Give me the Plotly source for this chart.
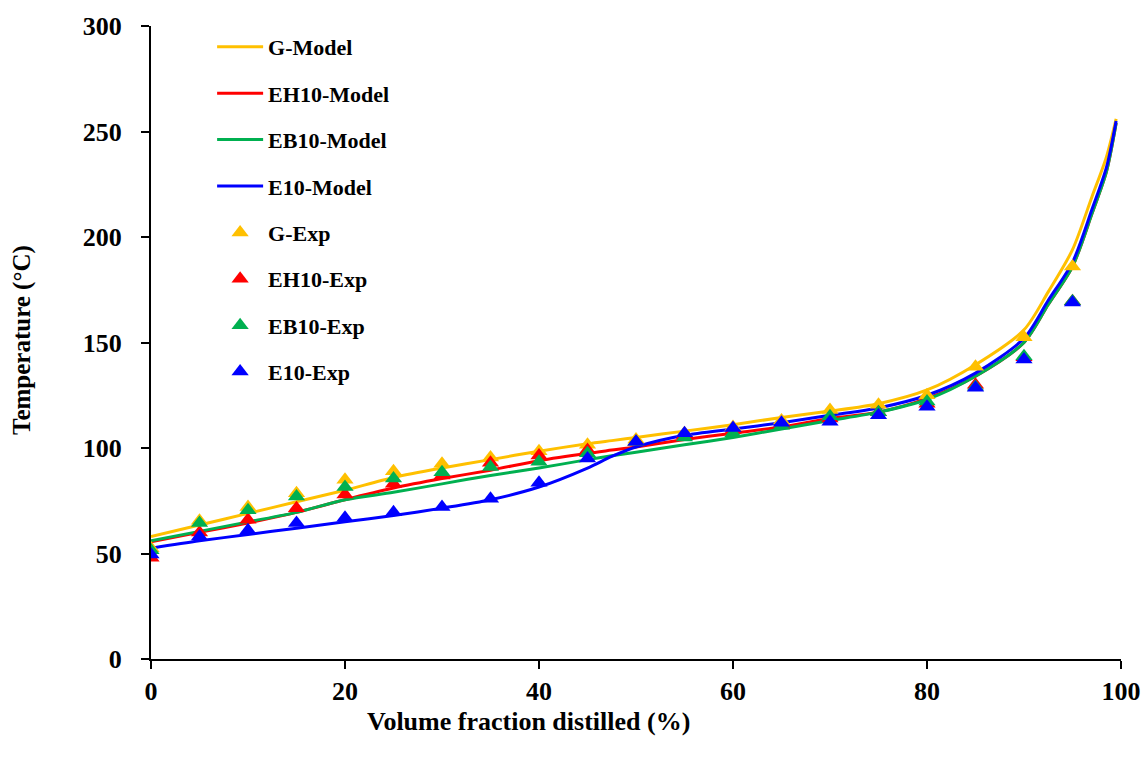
import plotly.graph_objects as go

# Model curves: volume fraction distilled (%) vs temperature (°C)
x_model = [0, 5, 10, 15, 20, 25, 30, 35, 40, 45, 47.5, 50, 55, 60, 65, 70, 75, 80,
           85, 90, 92.5, 95, 97, 98.5, 99.5]
g_model = [58, 63.5, 69, 74.5, 80, 86, 90.5, 94.5, 98.5, 102, 103.5, 105, 108, 111,
           114.5, 117.5, 121, 127.5, 139.5, 156, 174, 194, 219, 238, 256]
eh10_model = [55.5, 60, 64.5, 69.5, 75.5, 81, 85.5, 89.5, 94, 97.5, 99, 100.5, 104,
              107, 110, 114, 117, 123.5, 134, 150, 168, 186, 211, 231, 254]
eb10_model = [56, 60.5, 65, 69.5, 75.5, 79, 83, 87, 90.5, 94.5, 96.3, 98, 101.5, 105,
              109, 113, 117, 123, 134, 150, 168, 186, 211, 231, 254]
e10_model = [52.5, 56, 59, 62, 65, 68, 71.5, 75.5, 81.5, 90.5, 96, 100.5, 106, 109,
             112, 115.5, 119, 125, 135.5, 152, 170, 188, 213, 233, 255]

# Experimental distillation points
x_exp = [0, 5, 10, 15, 20, 25, 30, 35, 40, 45, 50, 55, 60, 65, 70, 75, 80, 85, 90, 95]
g_exp = [52.5, 65.5, 72, 78.5, 85, 89, 92.5, 95.5, 98.5, 101.5, 104, 107, 110, 113,
         118, 120.5, 125, 138.5, 152.5, 186]
eh10_exp = [48, 60, 66, 71.5, 78, 83, 87, 93, 96.5, 99, 103, 106, 108.5, 111, 114,
            117, 121, 130, 143, 169.5]
eb10_exp = [51.5, 64.5, 70.5, 77, 81.5, 85.5, 88.5, 91, 93.5, 97.5, 103, 105, 107,
            110.5, 115, 117, 122, 129, 143.5, 169.5]
e10_exp = [49.5, 58, 61, 64.5, 67, 69.5, 72, 76, 83.5, 95, 103, 107, 109.5, 112,
           112.5, 115.5, 119.5, 128.5, 142, 169]

x_ticks = [0, 20, 40, 60, 80, 100]
y_ticks = [0, 50, 100, 150, 200, 250, 300]

colors = {"G": "#FFC000", "EH10": "#FF0000", "EB10": "#00B050", "E10": "#0000FF"}
FONT = "Liberation Serif"

fig = go.Figure()

models = [("G", g_model), ("EH10", eh10_model), ("EB10", eb10_model), ("E10", e10_model)]
for name, ys in models:
    fig.add_trace(go.Scatter(
        x=x_model, y=ys, mode="lines", name=f"{name}-Model",
        legendgroup=f"{name}-Model",
        line=dict(color=colors[name], width=3, shape="spline", smoothing=0.8),
    ))

exps = [("G", g_exp), ("EH10", eh10_exp), ("EB10", eb10_exp), ("E10", e10_exp)]
for name, ys in exps:
    fig.add_trace(go.Scatter(
        x=x_exp, y=ys, mode="markers", name=f"{name}-Exp",
        legendgroup=f"{name}-Exp",
        marker=dict(symbol="triangle-up", size=15, color=colors[name],
                    line=dict(width=0)),
    ))

axis_common = dict(
    showline=True, linecolor="black", linewidth=2,
    ticks="outside", ticklen=8, tickwidth=2, tickcolor="black",
    showgrid=False, zeroline=False, automargin=False,
    tickfont=dict(family=FONT, size=26, color="black", weight="bold"),
)

fig.update_layout(
    width=1146, height=758,
    margin=dict(l=151, r=25, t=26, b=99),
    paper_bgcolor="white", plot_bgcolor="white",
    font=dict(family=FONT, color="black"),
    xaxis=dict(range=[0, 100], tickvals=x_ticks, ticklabelstandoff=0, **axis_common),
    yaxis=dict(range=[0, 300], tickvals=y_ticks, ticklabelstandoff=14, **axis_common),
    legend=dict(
        x=0.063, y=1.0, xanchor="left", yanchor="top",
        bgcolor="rgba(0,0,0,0)", tracegroupgap=14.8, itemwidth=46,
        font=dict(family=FONT, size=22, color="black", weight="bold"),
        traceorder="grouped",
    ),
    showlegend=True,
    annotations=[
        dict(text="Volume fraction distilled (%)", xref="paper", yref="paper",
             x=(528 - 151) / 970, y=(659 - 721) / 633, xanchor="center",
             yanchor="middle", showarrow=False,
             font=dict(family=FONT, size=26, color="black", weight="bold")),
        dict(text="Temperature (°C)", xref="paper", yref="paper",
             x=(22 - 151) / 970, y=(659 - 340) / 633, xanchor="center",
             yanchor="middle", textangle=-90, showarrow=False,
             font=dict(family=FONT, size=25, color="black", weight="bold")),
    ],
)

fig.write_html("out.html")
